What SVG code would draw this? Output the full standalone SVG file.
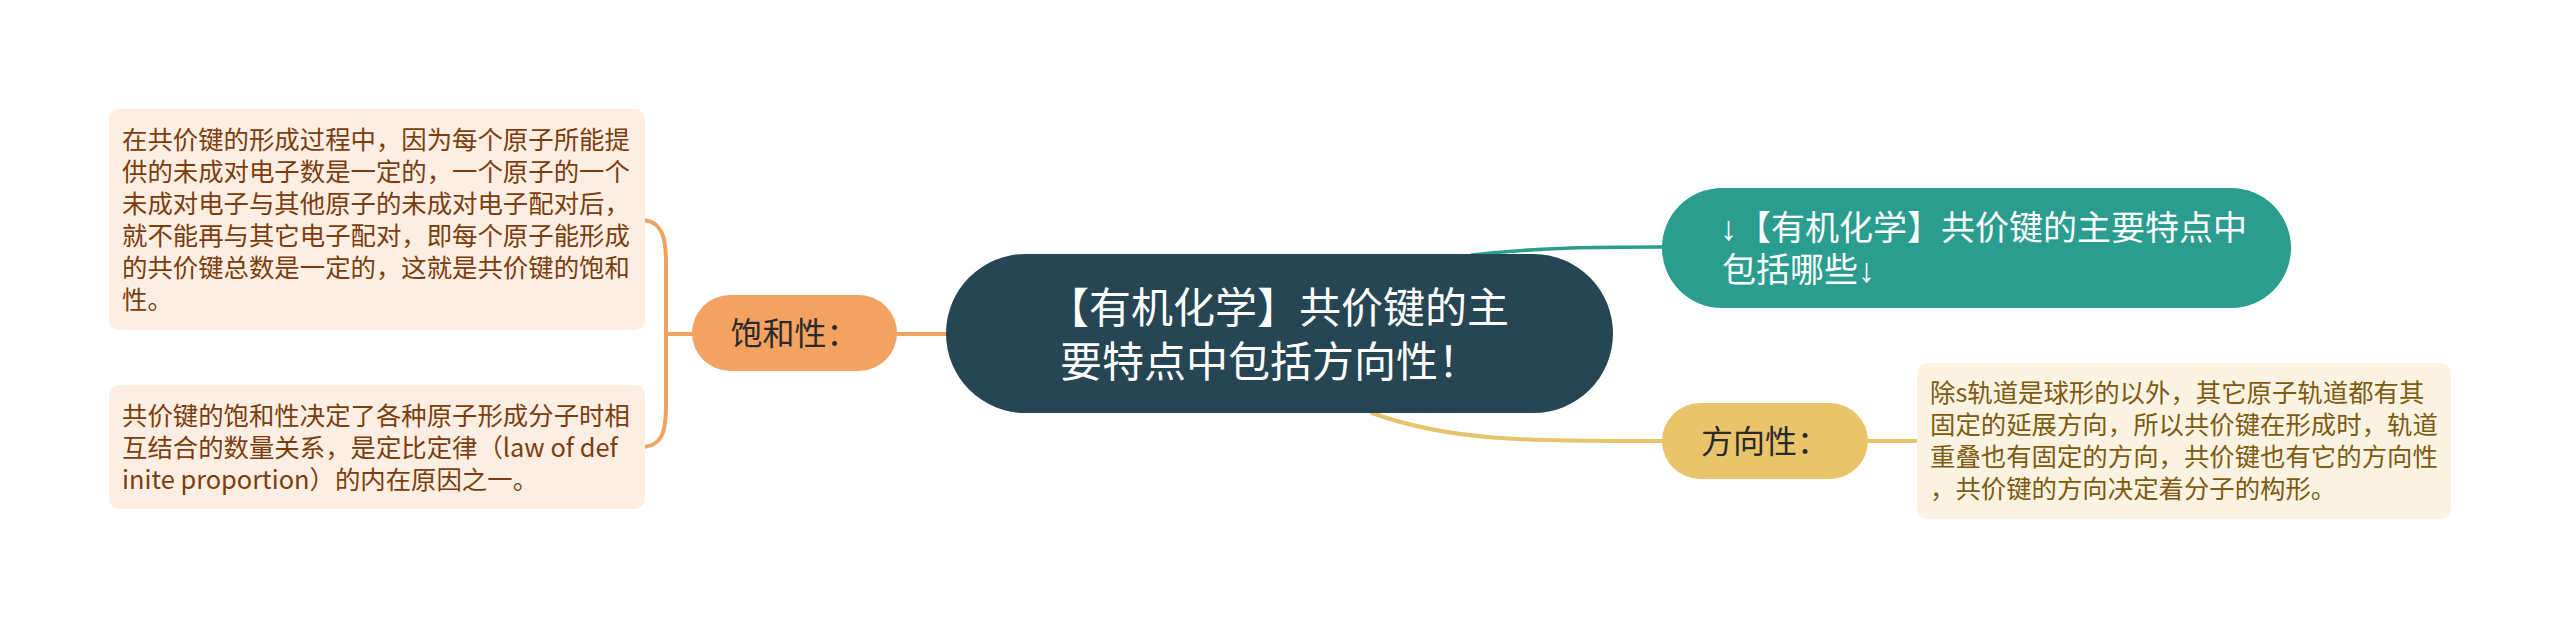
<svg xmlns="http://www.w3.org/2000/svg" width="2560" height="628" viewBox="0 0 2560 628">
<style>
text{font-family:"Noto Sans CJK SC","Noto Sans",sans-serif}
.arw{font-family:"Liberation Sans","DejaVu Sans",sans-serif}
.leafO{fill:#fdeee3}
.leafY{fill:#faf3e2}
.tO{font-size:25.4px;fill:#7c3d0c}
.tY{font-size:25.4px;fill:#7f5b12}
.cO{fill:none;stroke:#f0a260;stroke-width:4;stroke-linecap:round}
.cY{fill:none;stroke:#e6c46c;stroke-width:4;stroke-linecap:round}
.cT{fill:none;stroke:#2a9d8f;stroke-width:3.5;stroke-linecap:round}
.lbl{font-size:32px;fill:#2a2a2a;text-anchor:middle}
</style>
<rect width="2560" height="628" fill="#ffffff"/>
<g id="connectors">
<path class="cO" d="M947,334 L897,334"/>
<path class="cO" d="M692,334 L666,334"/>
<path class="cO" d="M644,220 C662,222 666,238 666,262 L666,406 C666,432 662,445 644,447"/>
<path class="cT" d="M1472,255 C1545,247 1600,247 1662,247"/>
<path class="cY" d="M1372,413 C1450,441 1520,441 1662,441"/>
<path class="cY" d="M1868,441 L1917,441"/>
</g>
<g id="central">
<rect x="946" y="254" width="667" height="159" rx="79.5" fill="#264653"/>
<text x="1047" y="322.5" font-size="42" fill="#ffffff">【有机化学】共价键的主</text>
<text x="1060" y="376.5" font-size="42" fill="#ffffff">要特点中包括方向性！</text>
</g>
<g id="topic-teal">
<rect x="1662" y="188" width="629" height="120" rx="60" fill="#2a9d8f"/>
<text x="1720" y="239.5" font-size="34" fill="#ffffff"><tspan class="arw">↓</tspan>【有机化学】共价键的主要特点中</text>
<text x="1722" y="281.5" font-size="34" fill="#ffffff">包括哪些<tspan class="arw">↓</tspan></text>
</g>
<g id="topic-saturation">
<rect x="692" y="295" width="205" height="76" rx="38" fill="#f4a261"/>
<text class="lbl" x="794.5" y="345">饱和性：</text>
</g>
<g id="topic-direction">
<rect x="1662" y="403" width="206" height="76" rx="38" fill="#e9c46a"/>
<text class="lbl" x="1765" y="452.5">方向性：</text>
</g>
<g id="leaf-saturation-1">
<rect class="leafO" x="109" y="109" width="536" height="221" rx="10"/>
<text class="tO" x="122" y="149">在共价键的形成过程中，因为每个原子所能提</text>
<text class="tO" x="122" y="181">供的未成对电子数是一定的，一个原子的一个</text>
<text class="tO" x="122" y="213">未成对电子与其他原子的未成对电子配对后，</text>
<text class="tO" x="122" y="245">就不能再与其它电子配对，即每个原子能形成</text>
<text class="tO" x="122" y="277">的共价键总数是一定的，这就是共价键的饱和</text>
<text class="tO" x="122" y="309">性。</text>
</g>
<g id="leaf-saturation-2">
<rect class="leafO" x="109" y="385" width="536" height="124" rx="10"/>
<text class="tO" x="122" y="424.5">共价键的饱和性决定了各种原子形成分子时相</text>
<text class="tO" x="122" y="456.5">互结合的数量关系，是定比定律（law of def</text>
<text class="tO" x="122" y="488.5">inite proportion）的内在原因之一。</text>
</g>
<g id="leaf-direction">
<rect class="leafY" x="1917" y="363" width="534" height="156" rx="10"/>
<text class="tY" x="1930" y="402">除s轨道是球形的以外，其它原子轨道都有其</text>
<text class="tY" x="1930" y="434">固定的延展方向，所以共价键在形成时，轨道</text>
<text class="tY" x="1930" y="466">重叠也有固定的方向，共价键也有它的方向性</text>
<text class="tY" x="1930" y="498">，共价键的方向决定着分子的构形。</text>
</g>
</svg>
